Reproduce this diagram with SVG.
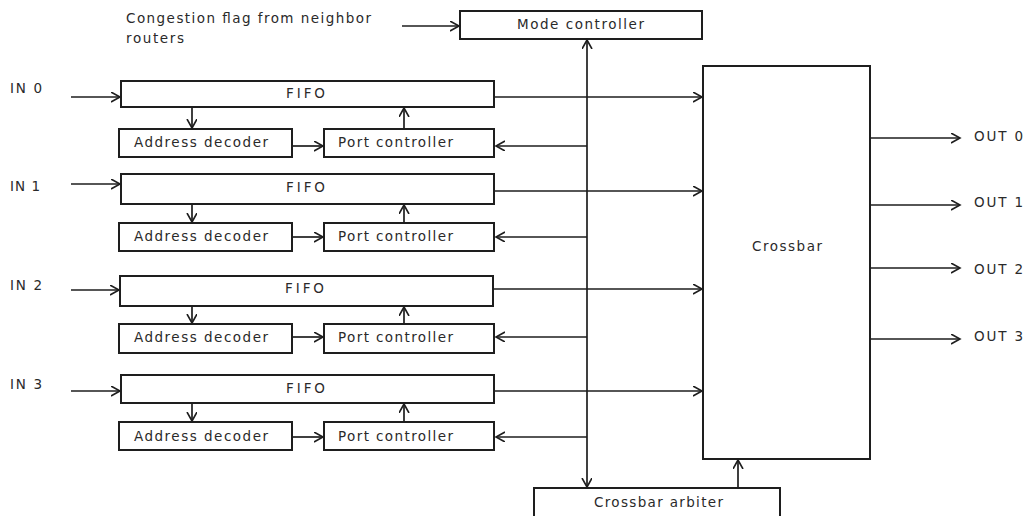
<svg xmlns="http://www.w3.org/2000/svg" width="1026" height="516" viewBox="0 0 1026 516">
<defs>
<marker id="arr" markerUnits="userSpaceOnUse" markerWidth="12" markerHeight="12" refX="9" refY="5" orient="auto">
<path d="M0,0 L9,5 L0,10" fill="none" stroke="#1e1e1e" stroke-width="1.6"/>
</marker>
<style>
.box{fill:#fff;stroke:#1e1e1e;stroke-width:2}
.ln{fill:none;stroke:#1e1e1e;stroke-width:1.7}
.ar{fill:none;stroke:#1e1e1e;stroke-width:1.7;marker-end:url(#arr)}
text{font-family:"DejaVu Sans","Open Sans",sans-serif;font-size:13.5px;fill:#2a2a2a}
</style>
</defs>
<rect width="1026" height="516" fill="#fff"/>

<g id="congestion-label">
<text x="126" y="23" textLength="245" lengthAdjust="spacing">Congestion  flag from neighbor</text>
<text x="126" y="43" textLength="58" lengthAdjust="spacing">routers</text>
</g>
<g id="mode-controller">
<rect class="box" x="460" y="11" width="242" height="28"/>
<text x="517" y="29" textLength="127" lengthAdjust="spacing">Mode controller</text>
</g>

<g id="in-labels">
<text x="10" y="93" textLength="32" lengthAdjust="spacing">IN 0</text>
<text x="10" y="191" textLength="30" lengthAdjust="spacing">IN 1</text>
<text x="10" y="290" textLength="32" lengthAdjust="spacing">IN 2</text>
<text x="10" y="389" textLength="32" lengthAdjust="spacing">IN 3</text>
</g>

<g id="fifo0"><rect class="box" x="121" y="81" width="373" height="26"/><text x="286" y="98" textLength="39" lengthAdjust="spacing">FIFO</text></g>
<g id="addr0"><rect class="box" x="119" y="129" width="173" height="28"/><text x="134" y="147" textLength="134" lengthAdjust="spacing">Address decoder</text></g>
<g id="port0"><rect class="box" x="324" y="129" width="170" height="28"/><text x="338" y="147" textLength="115" lengthAdjust="spacing">Port controller</text></g>

<g id="fifo1"><rect class="box" x="121" y="174" width="373" height="30"/><text x="286" y="192" textLength="39" lengthAdjust="spacing">FIFO</text></g>
<g id="addr1"><rect class="box" x="119" y="223" width="173" height="28"/><text x="134" y="241" textLength="134" lengthAdjust="spacing">Address decoder</text></g>
<g id="port1"><rect class="box" x="324" y="223" width="170" height="28"/><text x="338" y="241" textLength="115" lengthAdjust="spacing">Port controller</text></g>

<g id="fifo2"><rect class="box" x="120" y="276" width="373" height="30"/><text x="285" y="293" textLength="39" lengthAdjust="spacing">FIFO</text></g>
<g id="addr2"><rect class="box" x="119" y="324" width="173" height="29"/><text x="134" y="342" textLength="134" lengthAdjust="spacing">Address decoder</text></g>
<g id="port2"><rect class="box" x="324" y="324" width="170" height="29"/><text x="338" y="342" textLength="115" lengthAdjust="spacing">Port controller</text></g>

<g id="fifo3"><rect class="box" x="121" y="375" width="373" height="28"/><text x="286" y="393" textLength="39" lengthAdjust="spacing">FIFO</text></g>
<g id="addr3"><rect class="box" x="119" y="422" width="173" height="28"/><text x="134" y="441" textLength="134" lengthAdjust="spacing">Address decoder</text></g>
<g id="port3"><rect class="box" x="324" y="422" width="170" height="28"/><text x="338" y="441" textLength="115" lengthAdjust="spacing">Port controller</text></g>

<g id="crossbar">
<rect class="box" x="703" y="66" width="167" height="393"/>
<text x="752" y="251" textLength="70" lengthAdjust="spacing">Crossbar</text>
</g>
<g id="crossbar-arbiter">
<rect class="box" x="534" y="488" width="246" height="40"/>
<text x="594" y="507" textLength="129" lengthAdjust="spacing">Crossbar arbiter</text>
</g>

<g id="out-labels">
<text x="974" y="141" textLength="49" lengthAdjust="spacing">OUT 0</text>
<text x="974" y="207" textLength="49" lengthAdjust="spacing">OUT 1</text>
<text x="974" y="274" textLength="49" lengthAdjust="spacing">OUT 2</text>
<text x="974" y="341" textLength="49" lengthAdjust="spacing">OUT 3</text>
</g>

<g id="connectors">
<line class="ar" x1="402" y1="26" x2="459" y2="26"/>
<line class="ln" x1="587" y1="90" x2="587" y2="440"/>
<line class="ar" x1="587" y1="90" x2="587" y2="40"/>
<line class="ar" x1="587" y1="440" x2="587" y2="487"/>

<line class="ar" x1="71" y1="97" x2="120" y2="97"/>
<line class="ar" x1="71" y1="184" x2="120" y2="184"/>
<line class="ar" x1="71" y1="290" x2="119" y2="290"/>
<line class="ar" x1="71" y1="391" x2="120" y2="391"/>

<line class="ar" x1="192" y1="107" x2="192" y2="128"/>
<line class="ar" x1="192" y1="204" x2="192" y2="222"/>
<line class="ar" x1="192" y1="306" x2="192" y2="323"/>
<line class="ar" x1="192" y1="403" x2="192" y2="421"/>

<line class="ar" x1="404" y1="129" x2="404" y2="108"/>
<line class="ar" x1="404" y1="223" x2="404" y2="205"/>
<line class="ar" x1="404" y1="324" x2="404" y2="307"/>
<line class="ar" x1="404" y1="422" x2="404" y2="404"/>

<line class="ar" x1="292" y1="146" x2="323" y2="146"/>
<line class="ar" x1="292" y1="237" x2="323" y2="237"/>
<line class="ar" x1="292" y1="337" x2="323" y2="337"/>
<line class="ar" x1="292" y1="437" x2="323" y2="437"/>

<line class="ar" x1="587" y1="146" x2="496" y2="146"/>
<line class="ar" x1="587" y1="237" x2="496" y2="237"/>
<line class="ar" x1="587" y1="337" x2="496" y2="337"/>
<line class="ar" x1="587" y1="437" x2="496" y2="437"/>

<line class="ar" x1="494" y1="97" x2="702" y2="97"/>
<line class="ar" x1="494" y1="191" x2="702" y2="191"/>
<line class="ar" x1="493" y1="289" x2="702" y2="289"/>
<line class="ar" x1="494" y1="391" x2="702" y2="391"/>

<line class="ar" x1="738" y1="488" x2="738" y2="460"/>

<line class="ar" x1="870" y1="138" x2="960" y2="138"/>
<line class="ar" x1="870" y1="205" x2="960" y2="205"/>
<line class="ar" x1="870" y1="268" x2="960" y2="268"/>
<line class="ar" x1="870" y1="339" x2="960" y2="339"/>
</g>
</svg>
